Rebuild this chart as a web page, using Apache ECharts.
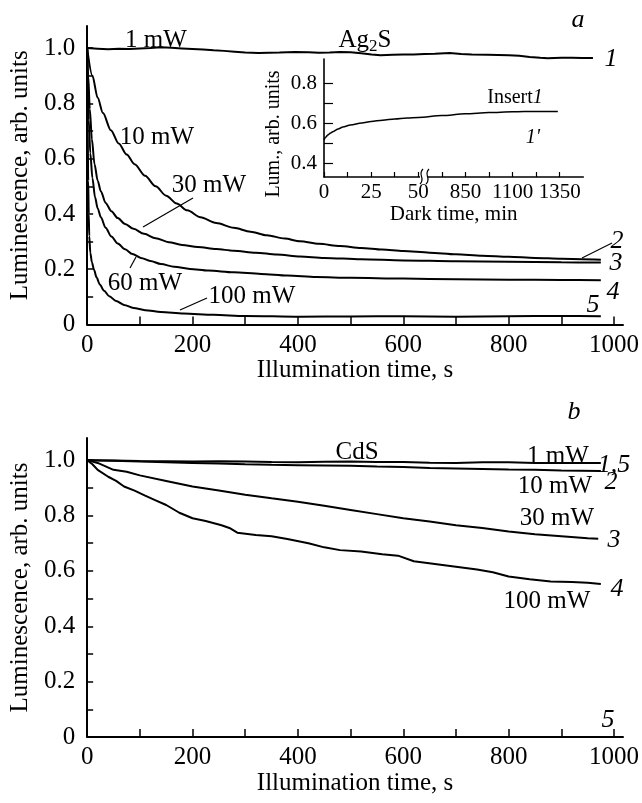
<!DOCTYPE html>
<html><head><meta charset="utf-8">
<script src="https://cdn.jsdelivr.net/npm/echarts@6/dist/echarts.min.js"></script>
<style>html,body{margin:0;padding:0;background:#fff}#c{width:642px;height:803px}</style>
</head><body><div id="c"></div>
<script>
const FONT = '"Liberation Serif", "Times New Roman", serif';

// ---------- Panel a: Ag2S  [illumination time (s), luminescence] ----------
const ag_1mW = [[0,1.0],[20,0.998],[40,0.996],[60,0.998],[80,0.997],[100,0.999],[120,1.0],[140,1.003],[160,1.001],[180,0.999],[200,0.997],[220,0.995],[240,0.992],[260,0.99],[280,0.987],[300,0.984],[325,0.982],[345,0.983],[365,0.984],[394,0.986],[420,0.985],[440,0.983],[460,0.984],[480,0.986],[500,0.985],[520,0.981],[540,0.977],[557,0.974],[580,0.976],[600,0.977],[620,0.977],[640,0.979],[660,0.98],[688,0.982],[710,0.979],[730,0.977],[760,0.976],[780,0.975],[800,0.974],[820,0.972],[840,0.968],[860,0.965],[874,0.963],[900,0.965],[920,0.965],[940,0.964],[960,0.964]];
const ag_10mW = [[0,1.0],[10,0.9],[20,0.82],[30,0.765],[45,0.703],[60,0.655],[75,0.615],[90,0.58],[110,0.538],[130,0.5],[150,0.466],[170,0.438],[190,0.413],[215,0.388],[245,0.367],[278,0.35],[310,0.336],[341,0.323],[375,0.311],[404,0.301],[440,0.292],[480,0.284],[520,0.277],[560,0.271],[600,0.266],[650,0.26],[700,0.254],[750,0.249],[800,0.245],[850,0.241],[900,0.238],[975,0.234]];
const ag_30mW = [[0,1.0],[2,0.9],[5,0.78],[9,0.67],[14,0.58],[20,0.52],[26,0.482],[35,0.44],[46,0.41],[58,0.385],[72,0.364],[88,0.346],[108,0.328],[130,0.312],[155,0.298],[180,0.288],[210,0.28],[245,0.273],[278,0.267],[320,0.26],[360,0.253],[404,0.246],[450,0.241],[520,0.236],[600,0.232],[700,0.229],[800,0.227],[900,0.225],[975,0.224]];
const ag_60mW = [[0,1.0],[1,0.88],[3,0.74],[6,0.62],[10,0.53],[15,0.46],[20,0.42],[26,0.388],[35,0.35],[46,0.318],[58,0.293],[72,0.272],[86,0.255],[102,0.241],[120,0.23],[140,0.219],[165,0.209],[195,0.201],[230,0.195],[278,0.189],[330,0.183],[380,0.177],[435,0.172],[500,0.169],[600,0.166],[700,0.164],[800,0.162],[900,0.161],[975,0.16]];
const ag_100mW = [[0,1.0],[0.5,0.85],[1,0.72],[2,0.52],[3,0.4],[4,0.32],[6,0.26],[9,0.225],[13,0.198],[18,0.17],[24,0.145],[32,0.122],[42,0.102],[55,0.085],[70,0.071],[88,0.06],[110,0.052],[140,0.045],[183,0.04],[240,0.035],[300,0.031],[404,0.028],[500,0.029],[600,0.03],[700,0.028],[800,0.03],[900,0.031],[975,0.03]];

// ---------- Inset: dark recovery  [dark time (min), luminescence] ----------
const insetDark = [[0,0.515],[1,0.53],[2,0.54],[3.5,0.55],[5,0.558],[7.5,0.57],[10,0.58],[14,0.59],[20,0.6],[25,0.608],[31,0.614],[37.5,0.62],[44,0.625],[50,0.628],[450,0.637],[850,0.646],[975,0.652],[1100,0.656],[1225,0.658],[1340,0.658]];
const insetTickMinutes = [0,25,50,850,1100,1350];

// ---------- Panel b: CdS  [illumination time (s), luminescence] ----------
const cds_1mW = [[0,1.0],[50,0.999],[100,0.997],[150,0.996],[200,0.995],[250,0.996],[300,0.995],[350,0.993],[400,0.992],[450,0.994],[500,0.995],[550,0.993],[600,0.993],[650,0.991],[700,0.99],[750,0.992],[800,0.992],[850,0.99],[900,0.99],[975,0.99]];
const cds_10mW = [[0,1.0],[50,0.998],[100,0.995],[150,0.992],[200,0.99],[250,0.988],[300,0.985],[350,0.983],[400,0.982],[450,0.981],[500,0.98],[550,0.977],[600,0.975],[650,0.972],[700,0.97],[750,0.968],[800,0.966],[850,0.965],[900,0.963],[975,0.961]];
const cds_30mW = [[0,1.0],[20,0.99],[50,0.965],[75,0.958],[100,0.945],[150,0.925],[200,0.905],[250,0.89],[300,0.875],[350,0.862],[400,0.85],[450,0.835],[500,0.82],[550,0.805],[600,0.79],[650,0.778],[700,0.765],[750,0.755],[800,0.742],[850,0.732],[900,0.725],[950,0.718],[970,0.716]];
const cds_100mW = [[0,1.0],[10,0.985],[20,0.965],[40,0.94],[55,0.925],[70,0.905],[90,0.89],[110,0.872],[130,0.855],[150,0.838],[175,0.81],[200,0.79],[225,0.78],[255,0.765],[270,0.755],[285,0.738],[320,0.73],[350,0.725],[380,0.715],[420,0.7],[450,0.685],[480,0.675],[520,0.67],[560,0.66],[590,0.655],[620,0.635],[660,0.625],[700,0.615],[740,0.605],[770,0.595],[800,0.58],[840,0.57],[880,0.562],[920,0.56],[950,0.557],[975,0.553]];
const cds_5 = [[0,0],[975,0]];

const xTicks = [0,100,200,300,400,500,600,700,800,900,1000];
const xLabels = [0,200,400,600,800,1000];
const yTicks = [0,0.1,0.2,0.3,0.4,0.5,0.6,0.7,0.8,0.9,1.0];
const yLabels = [0,0.2,0.4,0.6,0.8,1.0];

// broken inset time axis: 0-50 min linear, 50-850 compressed, 850+ at 1/10 scale
function darkToAxis(t){ return t <= 50 ? t : (t <= 850 ? 50 + (t-50)*25/800 : 75 + (t-850)/10); }
const insetTickPos = insetTickMinutes.map(darkToAxis);
const insetMinorTicks = [0,12.5,25,37.5,50,62.5,75,87.5,100,112.5,125];

const chart = echarts.init(document.getElementById('c'), null, {renderer:'canvas'});

function mainX(gi){
  return {type:'value', gridIndex:gi, min:0, max:1017,
    axisLine:{show:true, onZero:false, lineStyle:{color:'#000', width:2}},
    axisTick:{show:true, inside:true, length:8, lineStyle:{color:'#000', width:1.5}, customValues:xTicks},
    axisLabel:{show:true, customValues:xLabels, color:'#000', fontFamily:FONT, fontSize:25, margin:8,
      formatter: v => String(Math.round(v))},
    splitLine:{show:false},
    name:'Illumination time, s', nameLocation:'middle', nameGap:33,
    nameTextStyle:{color:'#000', fontFamily:FONT, fontSize:25}};
}
function mainY(gi){
  return {type:'value', gridIndex:gi, min:0, max:1.08,
    axisLine:{show:true, onZero:false, lineStyle:{color:'#000', width:2}},
    axisTick:{show:true, inside:true, length:6, lineStyle:{color:'#000', width:1.5}, customValues:yTicks},
    axisLabel:{show:true, customValues:yLabels, color:'#000', fontFamily:FONT, fontSize:25, margin:12,
      formatter: v => (Math.abs(v) < 1e-9 ? '0' : Number(v).toFixed(1))},
    splitLine:{show:false},
    name:'Luminescence, arb. units', nameLocation:'middle', nameGap:52,
    nameTextStyle:{color:'#000', fontFamily:FONT, fontSize:25}};
}
function line(data, xi, yi, w, smooth){
  return {type:'line', xAxisIndex:xi, yAxisIndex:yi, data:data, showSymbol:false, symbol:'none',
    smooth: smooth ? 0.3 : false, smoothMonotone: smooth ? 'x' : undefined,
    lineStyle:{color:'#000', width:w}, animation:false, silent:true};
}
function txt(x, y, text, size, italic, extra){
  return Object.assign({type:'text', x:x, y:y, silent:true, style:{text:text, fill:'#000', fontFamily:FONT, fontSize:size,
    fontStyle: italic ? 'italic' : 'normal', align:'center', verticalAlign:'middle'}}, extra || {});
}
function seg(x1,y1,x2,y2,w){
  return {type:'line', silent:true, shape:{x1,y1,x2,y2}, style:{stroke:'#000', lineWidth:w||1.2}};
}

const option = {
  backgroundColor:'#fff',
  animation:false,
  grid:[
    {left:86, top:26, width:539, height:298.5},
    {left:86, top:438, width:539, height:299},
    {left:324, top:59, width:259.3, height:118}
  ],
  xAxis:[mainX(0), mainX(1),
    {type:'value', gridIndex:2, min:0, max:137.5,
      axisLine:{show:true, onZero:false, lineStyle:{color:'#000', width:1.6}},
      axisTick:{show:true, inside:true, length:5, lineStyle:{color:'#000', width:1.2}, customValues:insetMinorTicks},
      axisLabel:{show:true, customValues:insetTickPos, color:'#000', fontFamily:FONT, fontSize:21, margin:5,
        formatter: v => { const i = insetTickPos.findIndex(p => Math.abs(p - v) < 1e-6); return i >= 0 ? String(insetTickMinutes[i]) : ''; }},
      splitLine:{show:false},
      name:'Dark time, min', nameLocation:'middle', nameGap:20,
      nameTextStyle:{color:'#000', fontFamily:FONT, fontSize:21}}
  ],
  yAxis:[mainY(0), mainY(1),
    {type:'value', gridIndex:2, min:0.33, max:0.92,
      axisLine:{show:true, onZero:false, lineStyle:{color:'#000', width:1.6}},
      axisTick:{show:true, inside:true, length:9, lineStyle:{color:'#000', width:1.2}, customValues:[0.4,0.5,0.6,0.7,0.8]},
      axisLabel:{show:true, customValues:[0.4,0.6,0.8], color:'#000', fontFamily:FONT, fontSize:21, margin:7,
        formatter: v => Number(v).toFixed(1)},
      splitLine:{show:false}}
  ],
  series:[
    line(ag_1mW,0,0,2,false),
    line(ag_10mW,0,0,2,true),
    line(ag_30mW,0,0,2,true),
    line(ag_60mW,0,0,2,true),
    line(ag_100mW,0,0,2,true),
    line(insetDark.map(p => [darkToAxis(p[0]), p[1]]),2,2,1.5,true),
    line(cds_1mW,1,1,2,false),
    line(cds_10mW,1,1,2,false),
    line(cds_30mW,1,1,2,false),
    line(cds_100mW,1,1,2,false),
    line(cds_5,1,1,2,false)
  ],
  graphic:[
    // panel a
    txt(578,20,'a',26,true),
    txt(156,40,'1 mW',25,false),
    {type:'text', x:365, y:40, silent:true, style:{text:'{n|Ag}{s|2}{n|S}', fill:'#000', align:'center', verticalAlign:'middle',
      rich:{n:{fontFamily:FONT, fontSize:25, fill:'#000'}, s:{fontFamily:FONT, fontSize:17, fill:'#000', padding:[14,0,0,0]}}}},
    txt(611,59,'1',26,true),
    txt(157,137,'10 mW',25,false),
    txt(209,185,'30 mW',25,false),
    seg(193,198,143,227),
    txt(145,283,'60 mW',25,false),
    seg(130,268,136,257),
    txt(252,296,'100 mW',25,false),
    seg(207,298,180,310),
    txt(617,241,'2',26,true),
    seg(612,243,582,258),
    txt(616,263,'3',26,true),
    txt(613,292,'4',26,true),
    txt(593,305,'5',26,true),
    // inset
    {type:'text', x:515, y:98, silent:true, style:{text:'{n|Insert}{i|1}', fill:'#000', align:'center', verticalAlign:'middle',
      rich:{n:{fontFamily:FONT, fontSize:20, fill:'#000'}, i:{fontFamily:FONT, fontSize:20, fontStyle:'italic', fill:'#000'}}}},
    txt(533,138,"1'",20,true),
    txt(274,134,'Lum., arb. units',20,false,{rotation:Math.PI/2}),
    {type:'rect', silent:true, z:100, shape:{x:420, y:174, width:8, height:6}, style:{fill:'#fff'}},
    {type:'bezierCurve', silent:true, z:101, shape:{x1:423,y1:169,cpx1:417,cpy1:175,cpx2:426,cpy2:178,x2:420,y2:184}, style:{stroke:'#000', lineWidth:1.2, fill:null}},
    {type:'bezierCurve', silent:true, z:101, shape:{x1:429,y1:169,cpx1:423,cpy1:175,cpx2:432,cpy2:178,x2:426,y2:184}, style:{stroke:'#000', lineWidth:1.2, fill:null}},
    // panel b
    txt(574,412,'b',26,true),
    txt(357,452,'CdS',25,false),
    txt(558,456,'1 mW',25,false),
    txt(614,465,'1,5',26,true),
    txt(555,486,'10 mW',25,false),
    txt(611,482,'2',26,true),
    txt(557,518,'30 mW',25,false),
    txt(614,540,'3',26,true),
    txt(547,601,'100 mW',25,false),
    txt(617,589,'4',26,true),
    txt(608,720,'5',26,true)
  ]
};
chart.setOption(option);
</script></body></html>
